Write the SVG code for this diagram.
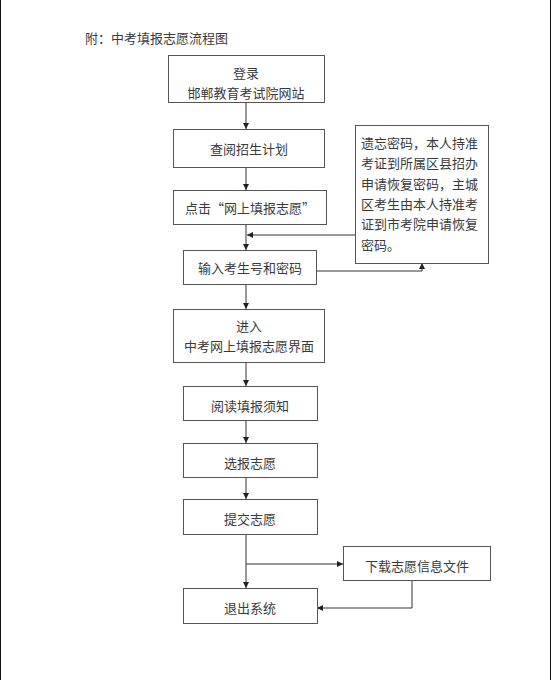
<svg xmlns="http://www.w3.org/2000/svg" width="551" height="680" viewBox="0 0 551 680">
<style>
.box{fill:#fff;stroke:#555;stroke-width:1}
.t{font-family:"Noto Sans CJK SC","Liberation Serif",serif;font-size:13px;fill:#3a3a3a;text-anchor:middle;dominant-baseline:central}
.tl{font-family:"Noto Sans CJK SC","Liberation Serif",serif;font-size:13px;fill:#3a3a3a;dominant-baseline:central}
.ln{fill:none;stroke:#333;stroke-width:1}
</style>
<defs>
<marker id="arr" markerUnits="userSpaceOnUse" markerWidth="8" markerHeight="8" refX="6" refY="3" orient="auto">
<path d="M0,0 L6,3 L0,6 Z" fill="#222"/>
</marker>
</defs>
<rect width="551" height="680" fill="#fff"/>
<rect x="0" y="0" width="1" height="680" fill="#111"/>
<rect x="550" y="0" width="1" height="680" fill="#111"/>
<text class="tl" x="85" y="37">附：中考填报志愿流程图</text>
<g id="connectors">
<path class="ln" d="M246,103 V129" marker-end="url(#arr)"/>
<path class="ln" d="M246,167 V190" marker-end="url(#arr)"/>
<path class="ln" d="M246,225 V250" marker-end="url(#arr)"/>
<path class="ln" d="M355,235 H247" marker-end="url(#arr)"/>
<path class="ln" d="M317,271 H422 V263" marker-end="url(#arr)"/>
<path class="ln" d="M246,284 V309" marker-end="url(#arr)"/>
<path class="ln" d="M246,363 V386" marker-end="url(#arr)"/>
<path class="ln" d="M246,421 V443" marker-end="url(#arr)"/>
<path class="ln" d="M246,478 V499" marker-end="url(#arr)"/>
<path class="ln" d="M246,535 V588" marker-end="url(#arr)"/>
<path class="ln" d="M246,564 H343" marker-end="url(#arr)"/>
<path class="ln" d="M412,581 V608 H317" marker-end="url(#arr)"/>
</g>
<g id="n1"><rect class="box" x="168.5" y="55.5" width="156" height="47"/><text class="t" x="246" y="72">登录</text><text class="t" x="246" y="92">邯郸教育考试院网站</text></g>
<g id="n2"><rect class="box" x="173.5" y="129.5" width="151" height="38"/><text class="t" x="249" y="148">查阅招生计划</text></g>
<g id="n3"><rect class="box" x="173.5" y="190.5" width="153" height="34"/><text class="t" x="250" y="207">点击“网上填报志愿”</text></g>
<g id="n4"><rect class="box" x="183.5" y="250.5" width="133" height="34"/><text class="t" x="250" y="267">输入考生号和密码</text></g>
<g id="side"><rect class="box" x="355.5" y="125.5" width="133" height="138"/>
<text class="tl" x="361" y="142">遗忘密码，本人持准</text>
<text class="tl" x="361" y="162.5">考证到所属区县招办</text>
<text class="tl" x="361" y="183">申请恢复密码，主城</text>
<text class="tl" x="361" y="203">区考生由本人持准考</text>
<text class="tl" x="361" y="223.5">证到市考院申请恢复</text>
<text class="tl" x="361" y="244">密码。</text>
</g>
<g id="n5"><rect class="box" x="173.5" y="309.5" width="151" height="53"/><text class="t" x="249" y="325">进入</text><text class="t" x="249" y="345">中考网上填报志愿界面</text></g>
<g id="n6"><rect class="box" x="183.5" y="386.5" width="134" height="34"/><text class="t" x="250" y="405">阅读填报须知</text></g>
<g id="n7"><rect class="box" x="183.5" y="443.5" width="134" height="34"/><text class="t" x="250" y="462">选报志愿</text></g>
<g id="n8"><rect class="box" x="183.5" y="499.5" width="134" height="35"/><text class="t" x="250" y="518">提交志愿</text></g>
<g id="n10"><rect class="box" x="343.5" y="546.5" width="147" height="34"/><text class="t" x="417" y="565">下载志愿信息文件</text></g>
<g id="n9"><rect class="box" x="183.5" y="588.5" width="134" height="35"/><text class="t" x="250" y="607">退出系统</text></g>
</svg>
